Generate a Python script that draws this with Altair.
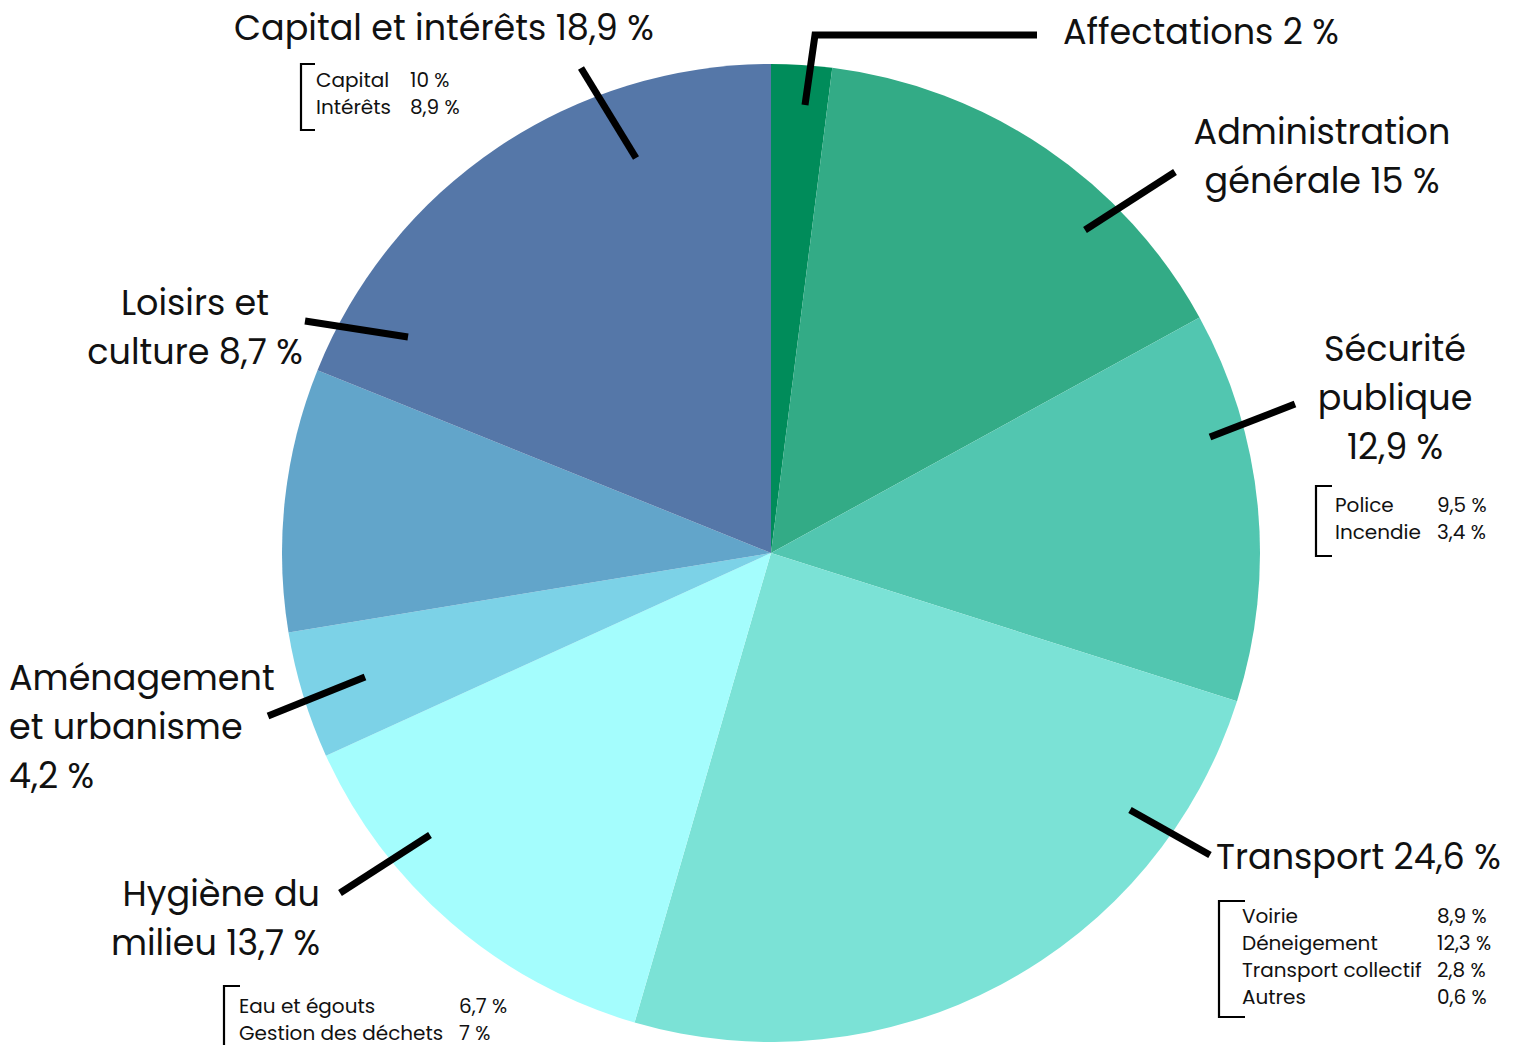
import altair as alt
import pandas as pd

# ---------------- data ----------------
categories = ["Affectations", "Administration générale", "Sécurité publique", "Transport",
              "Hygiène du milieu", "Aménagement et urbanisme", "Loisirs et culture",
              "Capital et intérêts"]
values = [2, 15, 12.9, 24.6, 13.7, 4.2, 8.7, 18.9]
colors = ["#008C5A", "#33AB86", "#52C6B0", "#7BE2D6", "#A4FDFD", "#7CD2E7", "#62A5CA", "#5577A8"]

capital_sub = ["Capital", "Intérêts"]
capital_sub_vals = [10, 8.9]
securite_sub = ["Police", "Incendie"]
securite_sub_vals = [9.5, 3.4]
transport_sub = ["Voirie", "Déneigement", "Transport collectif", "Autres"]
transport_sub_vals = [8.9, 12.3, 2.8, 0.6]
hygiene_sub = ["Eau et égouts", "Gestion des déchets"]
hygiene_sub_vals = [6.7, 7]


def pct(v):
    return f"{v:g}".replace(".", ",") + " %"


# ---------------- layout (pixel positions, page coords) ----------------
OFF = 8
CX, CY, R = 771 - OFF, 553 - OFF, 489
FONT = "Poppins, Inter, sans-serif"
BIG = 35
SMALL = 20
LH = 49

# label line breaks: category -> (lines, x, align, first baseline)
label_layout = {
    "Affectations": (["Affectations"], 1063, "left", 44),
    "Administration générale": (["Administration", "générale"], 1322, "center", 144),
    "Sécurité publique": (["Sécurité", "publique", ""], 1395, "center", 361),
    "Transport": (["Transport"], 1216, "left", 869),
    "Hygiène du milieu": (["Hygiène du", "milieu"], 320, "right", 906),
    "Aménagement et urbanisme": (["Aménagement", "et urbanisme", ""], 9, "left", 690),
    "Loisirs et culture": (["Loisirs et", "culture"], 195, "center", 315),
    "Capital et intérêts": (["Capital et intérêts"], 234, "left", 40),
}

# sub tables: (names, values, name x, value x, first baseline, row step)
sub_layout = [
    (capital_sub, capital_sub_vals, 316, 410, 87, 27),
    (securite_sub, securite_sub_vals, 1335, 1437, 512, 27),
    (transport_sub, transport_sub_vals, 1242, 1437, 923, 27),
    (hygiene_sub, hygiene_sub_vals, 239, 459, 1013, 27),
]

leader_lines = [
    [(805, 105), (815, 35), (1037, 35)],
    [(1085, 230), (1175, 172)],
    [(1210, 437), (1295, 404)],
    [(1130, 810), (1210, 855)],
    [(430, 835), (340, 893)],
    [(365, 677), (268, 716)],
    [(408, 337), (305, 321)],
    [(636, 158), (581, 68)],
]

brackets = [
    [(315, 64), (301, 64), (301, 130), (315, 130)],
    [(1332, 486), (1316, 486), (1316, 556), (1332, 556)],
    [(1245, 901), (1219, 901), (1219, 1017), (1245, 1017)],
    [(240, 986), (224, 986), (224, 1060)],
]

# ---------------- build tables ----------------
pie_df = pd.DataFrame({"cat": categories, "val": values, "ord": list(range(len(categories)))})

text_rows = []
for cat, v in zip(categories, values):
    lines, x, al, y0 = label_layout[cat]
    for i, ln in enumerate(lines):
        t = ln
        if i == len(lines) - 1:
            t = (ln + " " + pct(v)).strip()
        text_rows.append({"label": t, "px": x - OFF, "py": y0 + i * LH - OFF, "al": al, "fs": BIG})
for names, vals, xn, xv, y0, step in sub_layout:
    for i, (n, v) in enumerate(zip(names, vals)):
        text_rows.append({"label": n, "px": xn - OFF, "py": y0 + i * step - OFF, "al": "left", "fs": SMALL})
        text_rows.append({"label": pct(v), "px": xv - OFF, "py": y0 + i * step - OFF, "al": "left", "fs": SMALL})
text_df = pd.DataFrame(text_rows)

line_rows = []
for gid, pts in enumerate(leader_lines):
    for k, (x, y) in enumerate(pts):
        line_rows.append({"id": gid, "k": k, "px": x - OFF, "py": y - OFF})
line_df = pd.DataFrame(line_rows)

br_rows = []
for gid, pts in enumerate(brackets):
    for k, (x, y) in enumerate(pts):
        br_rows.append({"id": gid, "k": k, "px": x - OFF, "py": y - OFF})
br_df = pd.DataFrame(br_rows)

# ---------------- chart ----------------
pie = alt.Chart(pie_df).mark_arc(radius=R, x=CX, y=CY).encode(
    theta=alt.Theta("val:Q", stack=True),
    color=alt.Color("cat:N", scale=alt.Scale(domain=categories, range=colors), legend=None),
    order=alt.Order("ord:Q"),
)

X = alt.X("px:Q", scale=None, axis=None)
Y = alt.Y("py:Q", scale=None, axis=None)

layers = [pie]
for al in ["left", "center", "right"]:
    for fs in [BIG, SMALL]:
        sub = text_df[(text_df["al"] == al) & (text_df["fs"] == fs)].reset_index(drop=True)
        if len(sub) == 0:
            continue
        layers.append(
            alt.Chart(sub).mark_text(align=al, baseline="alphabetic", fontSize=fs,
                                     font=FONT, color="#111111").encode(x=X, y=Y, text="label:N")
        )

leaders = alt.Chart(line_df).mark_line(color="#000000", strokeWidth=7, strokeCap="butt",
                                       strokeJoin="miter").encode(
    x=X, y=Y, detail="id:N", order="k:Q")
brk = alt.Chart(br_df).mark_line(color="#000000", strokeWidth=2.2, strokeCap="butt",
                                 strokeJoin="miter").encode(
    x=X, y=Y, detail="id:N", order="k:Q")
layers += [leaders, brk]

chart = alt.layer(*layers).properties(
    width=1504, height=1037, autosize=alt.AutoSizeParams(type="none"), padding=0
).configure_view(stroke=None)

chart.save("out.html", embed_options={"renderer": "svg", "actions": False})
